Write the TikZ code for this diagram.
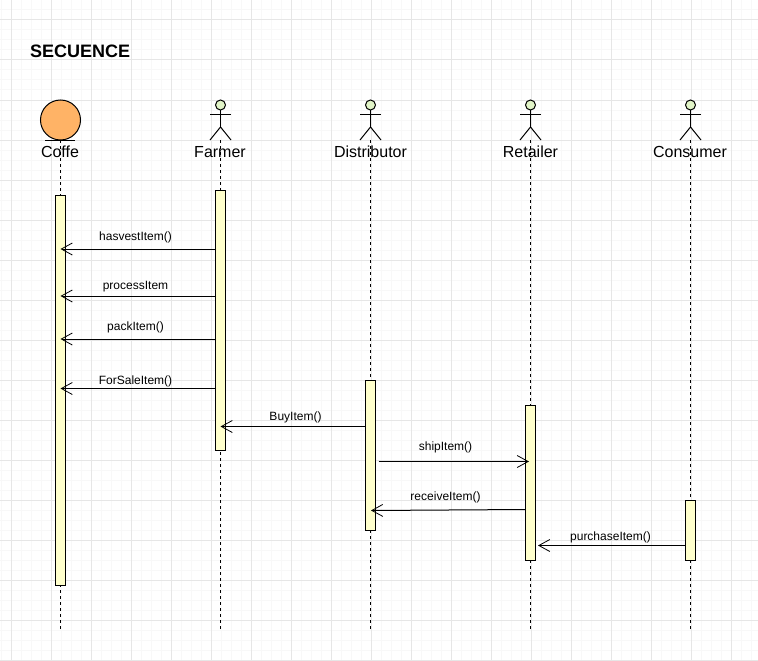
\documentclass[tikz,border=0pt]{standalone}
\usepackage{fontspec}
\setmainfont{Liberation Sans}
\usetikzlibrary{arrows.meta}
\definecolor{minorgrid}{HTML}{F8F8F8}
\definecolor{majorgrid}{HTML}{E6E6E6}
\definecolor{actfill}{HTML}{FFFFCC}
\definecolor{headfill}{HTML}{E2F5C8}
\definecolor{entityfill}{HTML}{FFB366}
\tikzset{
  x=1pt,y=-1pt,
  ln/.style={line width=1pt,black},
  lifeline/.style={line width=1pt,dash pattern=on 3pt off 3pt,black},
  actbox/.style={draw=black,line width=1pt,fill=actfill,minimum width=10pt,inner sep=0pt,outer sep=0pt,anchor=north},
  headnode/.style={circle,draw=black,line width=1pt,fill=headfill,minimum size=10pt,inner sep=0pt,outer sep=0pt},
  entity/.style={circle,draw=black,line width=1pt,fill=entityfill,minimum size=40pt,inner sep=0pt,outer sep=0pt},
  namelabel/.style={font=\fontsize{16}{18}\selectfont,inner sep=0pt,anchor=center},
  msglabel/.style={font=\fontsize{12}{14}\selectfont,inner sep=0pt,anchor=center},
  msg/.style={line width=1pt,black,-{Straight Barb[length=11pt,width=12pt,line width=.8pt]}},
}
\newcommand{\stickman}[2]{% name, x
  \node[headnode] (#1) at (#2+.5,105) {};
  \coordinate (#1neck) at (#2+.5,110);
  \coordinate (#1hip) at (#2+.5,127);
  \coordinate (#1foot) at (#2+.5,140);
  \draw[ln] (#1) -- (#1hip);
  \draw[ln] (#2-10,114) -- (#2+11,114);
  \draw[ln] (#2-10,140) -- (#1hip) -- (#2+11,140);
}
\begin{document}
\begin{tikzpicture}
\useasboundingbox (0,0) rectangle (758,661);
% grid
\foreach \i in {0,...,75}{\draw[minorgrid,line width=1pt] (1.5+10*\i,0) -- (1.5+10*\i,661);}
\foreach \i in {0,...,66}{\draw[minorgrid,line width=1pt] (0,10*\i) -- (758,10*\i);}
\foreach \i in {0,...,18}{\draw[majorgrid,line width=1pt] (11.5+40*\i,0) -- (11.5+40*\i,661);}
\foreach \i in {0,...,16}{\draw[majorgrid,line width=1pt] (0,20+40*\i) -- (758,20+40*\i);}

\node[font=\bfseries\fontsize{18}{20}\selectfont,inner sep=0pt,anchor=west] (title) at (30,51) {SECUENCE};

% lifeline ends
\coordinate (e1) at (60.5,630);
\coordinate (e2) at (220.5,630);
\coordinate (e3) at (370.5,630);
\coordinate (e4) at (530.5,630);
\coordinate (e5) at (690.5,630);

% actors
\node[entity] (coffe) at (60.5,120) {};
\draw[ln] (45,140.5) -- (75,140.5);
\stickman{farmer}{220}
\stickman{distributor}{370}
\stickman{retailer}{530}
\stickman{consumer}{690}

\draw[lifeline] (coffe.south) -- (e1);
\draw[lifeline] (farmerfoot) -- (e2);
\draw[lifeline] (distributorfoot) -- (e3);
\draw[lifeline] (retailerfoot) -- (e4);
\draw[lifeline] (consumerfoot) -- (e5);

\node[namelabel] (lcoffe) at (60,152) {Coffe};
\node[namelabel] (lfarmer) at (220,152) {Farmer};
\node[namelabel] (ldistributor) at (370.5,152) {Distributor};
\node[namelabel] (lretailer) at (530.5,152) {Retailer};
\node[namelabel] (lconsumer) at (690,152) {Consumer};

% activations
\node[actbox,minimum height=390pt] (a1) at (60.5,195.5) {};
\node[actbox,minimum height=260pt] (a2) at (220.5,190.5) {};
\node[actbox,minimum height=150pt] (a3) at (370.5,380.5) {};
\node[actbox,minimum height=155pt] (a4) at (530.5,405.5) {};
\node[actbox,minimum height=60pt] (a5) at (690.5,500.5) {};

% messages
\coordinate (m1s) at (216,249); \coordinate (m1e) at (60.5,249);
\coordinate (m2s) at (216,296); \coordinate (m2e) at (60.5,296);
\coordinate (m3s) at (216,339); \coordinate (m3e) at (60.5,339);
\coordinate (m4s) at (216,388.5); \coordinate (m4e) at (60.5,388.5);
\coordinate (m5s) at (365.5,426.5); \coordinate (m5e) at (220.5,426.5);
\coordinate (m6s) at (378.5,461.5); \coordinate (m6e) at (529,461.5);
\coordinate (m7s) at (525.5,509.5); \coordinate (m7e) at (371,510.5);
\coordinate (m8s) at (685.5,545.5); \coordinate (m8e) at (538,545.5);

\draw[msg] (m1s) -- (m1e);
\draw[msg] (m2s) -- (m2e);
\draw[msg] (m3s) -- (m3e);
\draw[msg] (m4s) -- (m4e);
\draw[msg] (m5s) -- (m5e);
\draw[msg] (m6s) -- (m6e);
\draw[msg] (m7s) -- (m7e);
\draw[msg] (m8s) -- (m8e);

\node[msglabel] (t1) at (135.5,237) {hasvestItem()};
\node[msglabel] (t2) at (135.5,287) {processItem};
\node[msglabel] (t3) at (135.5,327) {packItem()};
\node[msglabel] (t4) at (135.5,381) {ForSaleItem()};
\node[msglabel] (t5) at (295.5,417) {BuyItem()};
\node[msglabel] (t6) at (445.5,447) {shipItem()};
\node[msglabel] (t7) at (445.5,497) {receiveItem()};
\node[msglabel] (t8) at (610.5,537) {purchaseItem()};
\end{tikzpicture}
\end{document}
